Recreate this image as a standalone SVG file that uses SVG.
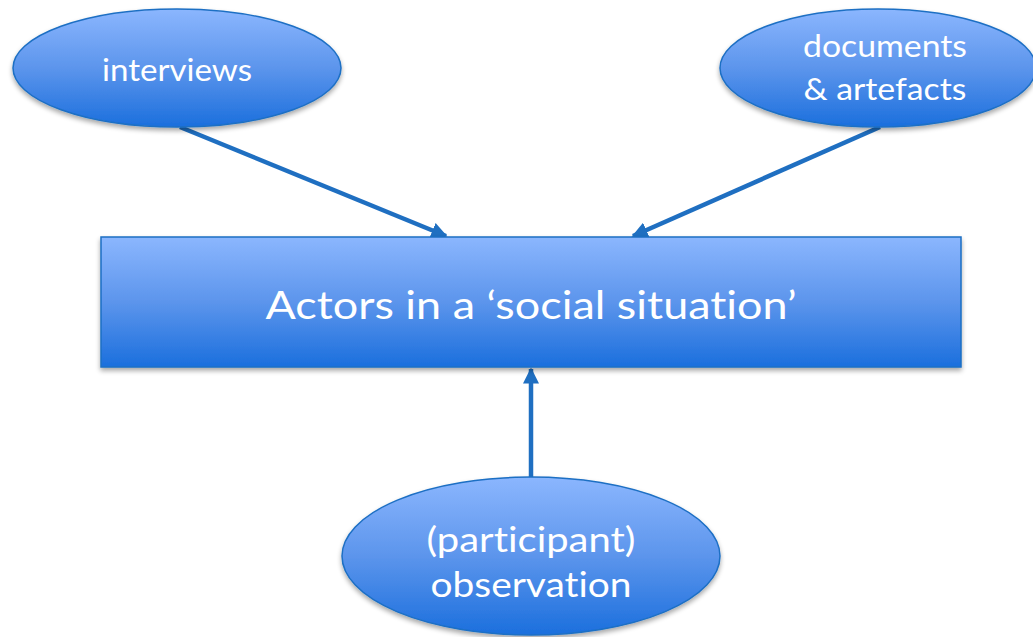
<svg xmlns="http://www.w3.org/2000/svg" width="1033" height="637" viewBox="0 0 1033 637">
<defs>
<linearGradient id="fillGrad" x1="0" y1="0" x2="0" y2="1">
<stop offset="0" stop-color="#8bb6fe"/>
<stop offset="0.5" stop-color="#5c95ec"/>
<stop offset="1" stop-color="#1b6fdd"/>
</linearGradient>
<filter id="shadow" x="-10%" y="-10%" width="120%" height="130%">
<feGaussianBlur in="SourceAlpha" stdDeviation="2.5"/>
<feOffset dx="0" dy="3" result="b"/>
<feComponentTransfer><feFuncA type="linear" slope="0.35"/></feComponentTransfer>
<feMerge><feMergeNode/><feMergeNode in="SourceGraphic"/></feMerge>
</filter>
<marker id="arrow" viewBox="0 0 10 10" refX="9" refY="5" markerWidth="3.6" markerHeight="3.6" orient="auto" markerUnits="strokeWidth">
<path d="M0,0 L10,5 L0,10 z" fill="#1f6fc1"/>
</marker>
<style>
.node{fill:url(#fillGrad);stroke:#1d6fc4;stroke-width:1.5;filter:url(#shadow);}
.lbl{fill:#ffffff;font-family:Lato,"Open Sans","Liberation Sans",sans-serif;font-weight:400;text-anchor:middle;font-variant-ligatures:none;}
.conn{stroke:#1f6fc1;stroke-width:4.5;fill:none;marker-end:url(#arrow);}
</style>
</defs>
<g id="connectors">
<line class="conn" x1="180" y1="127" x2="446" y2="236"/>
<line class="conn" x1="880" y1="127" x2="633" y2="236"/>
<line class="conn" x1="531" y1="477" x2="531" y2="369"/>
</g>
<g id="node-actors">
<rect class="node" x="101" y="237" width="860" height="130"/>
<text class="lbl" x="531" y="319" font-size="38" textLength="531" lengthAdjust="spacingAndGlyphs">Actors in a ‘social situation’</text>
</g>
<g id="node-interviews">
<ellipse class="node" cx="177" cy="68" rx="164" ry="59"/>
<text class="lbl" x="177" y="81" font-size="30" textLength="150" lengthAdjust="spacingAndGlyphs">interviews</text>
</g>
<g id="node-documents">
<ellipse class="node" cx="878" cy="68" rx="158" ry="59"/>
<text class="lbl" x="885" y="57" font-size="30" textLength="164" lengthAdjust="spacingAndGlyphs">documents</text>
<text class="lbl" x="885" y="100" font-size="30" textLength="163" lengthAdjust="spacingAndGlyphs">&amp; artefacts</text>
</g>
<g id="node-observation">
<ellipse class="node" cx="531" cy="556" rx="189" ry="79"/>
<text class="lbl" x="531" y="552" font-size="34" textLength="209" lengthAdjust="spacingAndGlyphs">(participant)</text>
<text class="lbl" x="531" y="597" font-size="34" textLength="201" lengthAdjust="spacingAndGlyphs">observation</text>
</g>
</svg>
